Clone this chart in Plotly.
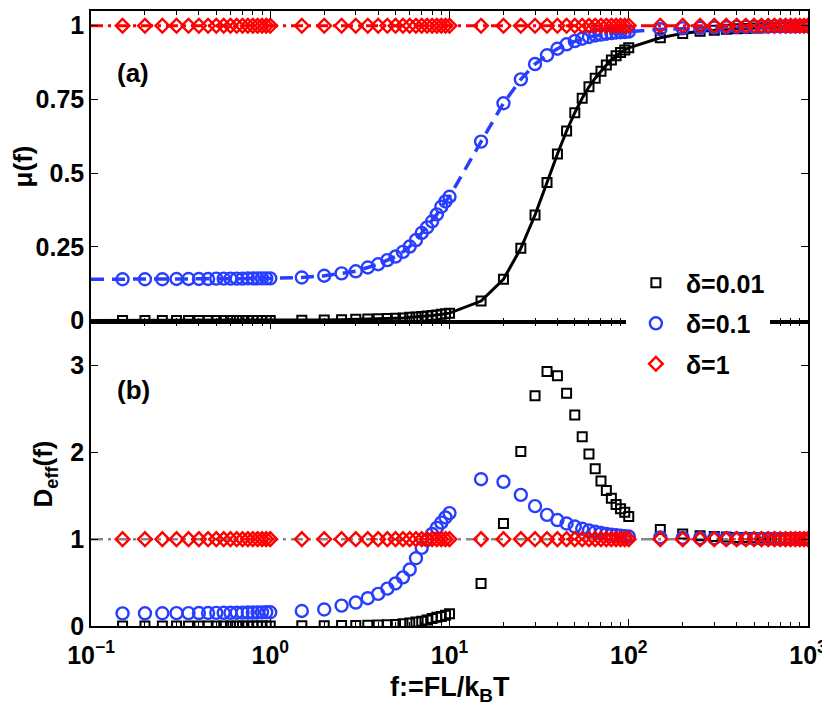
import plotly.graph_objects as go

# force grid f = FL/kBT
f_vals = [0.15, 0.2, 0.25, 0.3, 0.35, 0.4, 0.45, 0.5, 0.55, 0.6, 0.65, 0.7, 0.75, 0.8, 0.85, 0.9, 0.95, 1.0,
          1.5, 2, 2.5, 3, 3.5, 4, 4.5, 5, 5.5, 6, 6.5, 7, 7.5, 8, 8.5, 9, 9.5, 10,
          15, 20, 25, 30, 35, 40, 45, 50, 55, 60, 65, 70, 75, 80, 85, 90, 95, 100,
          150, 200, 250, 300, 350, 400, 450, 500, 550, 600, 650, 700, 750, 800, 850, 900, 950, 1000]

# panel (a): mu(f)
mu_d001 = [0] * 18 + \
    [0.001, 0.002, 0.003, 0.004, 0.005, 0.006, 0.007, 0.008, 0.009, 0.011, 0.012, 0.014, 0.015, 0.017, 0.019, 0.021, 0.023, 0.025] + \
    [0.066, 0.14, 0.245, 0.358, 0.468, 0.565, 0.643, 0.705, 0.754, 0.793, 0.822, 0.846, 0.867, 0.884, 0.898, 0.909, 0.918, 0.925] + \
    [0.959, 0.974, 0.981, 0.985, 0.988, 0.990, 0.991, 0.992, 0.993, 0.994, 0.994, 0.995, 0.995, 0.996, 0.996, 0.996, 0.997, 0.997]
mu_d01 = [0.140, 0.140, 0.140, 0.141, 0.141, 0.141, 0.141, 0.142, 0.142, 0.142, 0.142, 0.142, 0.143, 0.143, 0.143, 0.143, 0.143, 0.143] + \
    [0.146, 0.152, 0.160, 0.167, 0.180, 0.191, 0.205, 0.217, 0.233, 0.251, 0.273, 0.297, 0.316, 0.336, 0.360, 0.386, 0.404, 0.420] + \
    [0.607, 0.737, 0.818, 0.870, 0.900, 0.922, 0.937, 0.948, 0.956, 0.962, 0.967, 0.970, 0.973, 0.975, 0.977, 0.978, 0.979, 0.980] + \
    [0.988, 0.991, 0.993, 0.994, 0.995, 0.996, 0.996, 0.997, 0.997, 0.997, 0.998, 0.998, 0.998, 0.998, 0.998, 0.999, 0.999, 0.999]
mu_d1 = [1.0] * 72

# panel (b): D_eff(f)
D_d001 = [0] * 18 + \
    [0.002, 0.003, 0.005, 0.007, 0.009, 0.012, 0.015, 0.018, 0.025, 0.035, 0.045, 0.055, 0.07, 0.085, 0.10, 0.11, 0.125, 0.14] + \
    [0.49, 1.18, 2.01, 2.65, 2.93, 2.88, 2.68, 2.43, 2.18, 1.98, 1.81, 1.67, 1.56, 1.47, 1.40, 1.35, 1.31, 1.26] + \
    [1.11, 1.06, 1.04, 1.03, 1.025, 1.02, 1.018, 1.016, 1.014, 1.013, 1.012, 1.011, 1.01, 1.01, 1.009, 1.008, 1.008, 1.007]
D_d01 = [0.145, 0.146, 0.147, 0.148, 0.148, 0.149, 0.150, 0.151, 0.152, 0.152, 0.153, 0.154, 0.155, 0.155, 0.156, 0.157, 0.158, 0.158] + \
    [0.173, 0.19, 0.235, 0.27, 0.32, 0.37, 0.43, 0.49, 0.56, 0.65, 0.78, 0.90, 0.99, 1.06, 1.13, 1.19, 1.25, 1.30] + \
    [1.69, 1.66, 1.51, 1.38, 1.28, 1.22, 1.18, 1.145, 1.12, 1.10, 1.085, 1.07, 1.06, 1.05, 1.045, 1.04, 1.035, 1.03] + \
    [1.02, 1.015, 1.012, 1.01, 1.008, 1.007, 1.006, 1.005, 1.005, 1.004, 1.004, 1.003, 1.003, 1.003, 1.002, 1.002, 1.002, 1.002]
D_d1 = [1.0] * 72

# theory curves start at the left edge of the axis
f_line = [0.1] + f_vals
mu_line_d001 = [0] + mu_d001
mu_line_d01 = [0.14] + mu_d01
mu_line_d1 = [1.0] + mu_d1
D_line_ref = [1.0] * 73

labels = ['δ=0.01', 'δ=0.1', 'δ=1']
BLUE = 'rgb(40,62,255)'
RED = 'rgb(255,0,0)'
FONT = 'Liberation Sans, Arial, sans-serif'

sq = dict(symbol='square-open', size=9, color='black', line=dict(width=2))
ci = dict(symbol='circle-open', size=12, color=BLUE, line=dict(width=2.4))
di = dict(symbol='diamond-open', size=10.5, color=RED, line=dict(width=2.4))

fig = go.Figure()

# panel (a)
fig.add_trace(go.Scatter(x=f_vals, y=mu_d001, mode='markers', name=labels[0], legendgroup='a',
                         marker=sq, xaxis='x', yaxis='y'))
fig.add_trace(go.Scatter(x=f_line, y=mu_line_d001, mode='lines', showlegend=False,
                         line=dict(color='black', width=3), xaxis='x', yaxis='y'))
fig.add_trace(go.Scatter(x=f_vals, y=mu_d01, mode='markers', name=labels[1], legendgroup='b',
                         marker=ci, xaxis='x', yaxis='y'))
fig.add_trace(go.Scatter(x=f_line, y=mu_line_d01, mode='lines', showlegend=False,
                         line=dict(color=BLUE, width=3.5, dash='13px,8px'), xaxis='x', yaxis='y'))
fig.add_trace(go.Scatter(x=f_vals, y=mu_d1, mode='markers', name=labels[2], legendgroup='c',
                         marker=di, xaxis='x', yaxis='y'))
fig.add_trace(go.Scatter(x=f_line, y=mu_line_d1, mode='lines', showlegend=False,
                         line=dict(color=RED, width=3, dash='12px,5px,3px,5px'), xaxis='x', yaxis='y'))

# panel (b)
fig.add_trace(go.Scatter(x=f_line, y=D_line_ref, mode='lines', showlegend=False,
                         line=dict(color='rgb(135,135,135)', width=2.5, dash='12px,5px,3px,5px'),
                         xaxis='x2', yaxis='y2'))
fig.add_trace(go.Scatter(x=f_vals, y=D_d001, mode='markers', showlegend=False,
                         marker=sq, xaxis='x2', yaxis='y2'))
fig.add_trace(go.Scatter(x=f_vals, y=D_d01, mode='markers', showlegend=False,
                         marker=ci, xaxis='x2', yaxis='y2'))
fig.add_trace(go.Scatter(x=f_vals, y=D_d1, mode='markers', showlegend=False,
                         marker=di, xaxis='x2', yaxis='y2'))

major = [0.1, 1, 10, 100, 1000]
minor = [0.2, 0.3, 0.4, 0.5, 0.6, 0.7, 0.8, 0.9, 2, 3, 4, 5, 6, 7, 8, 9,
         20, 30, 40, 50, 60, 70, 80, 90, 200, 300, 400, 500, 600, 700, 800, 900]
tickfont = dict(family=FONT, size=25, color='black', weight='bold')
titlefont = dict(family=FONT, size=26, color='black', weight='bold')

axis_common = dict(showline=True, linecolor='black', linewidth=1.5, mirror='ticks',
                   ticks='inside', ticklen=7, tickwidth=1.2, tickcolor='black',
                   showgrid=False, zeroline=False, tickfont=tickfont, automargin=False)
x_common = dict(axis_common, type='log', range=[-1, 3], tickvals=major,
                minor=dict(tickvals=minor, ticks='inside', ticklen=4, tickwidth=1, tickcolor='black', showgrid=False))

# the page puts the figure 8px in from the top-left corner, margins account for it
split = 0.4943
fig.update_layout(
    width=830, height=714,
    margin=dict(l=83, r=30, t=3, b=96),
    plot_bgcolor='white', paper_bgcolor='white',
    font=dict(family=FONT, color='black'),
    xaxis=dict(x_common, domain=[0, 1], anchor='y', showticklabels=False),
    xaxis2=dict(x_common, domain=[0, 1], anchor='y2', matches='x', ticklabelstandoff=6,
                ticktext=['10<sup>−1</sup>', '10<sup>0</sup>', '10<sup>1</sup>', '10<sup>2</sup>', '10<sup>3</sup>']),
    yaxis=dict(axis_common, domain=[split, 1], anchor='x', range=[-0.005, 1.05],
               tickvals=[0, 0.25, 0.5, 0.75, 1], ticktext=['0', '0.25', '0.5', '0.75', '1'],
               title=dict(text='μ(f)', standoff=10, font=titlefont)),
    yaxis2=dict(axis_common, domain=[0, split], anchor='x2', range=[0, 3.5],
                tickvals=[0, 1, 2, 3], ticktext=['0', '1', '2', '3'],
                title=dict(text='D<sub>eff</sub>(f)', standoff=10, font=titlefont)),
    legend=dict(x=0.746, y=0.595, xanchor='left', yanchor='top', bgcolor='white', borderwidth=0,
                font=dict(family=FONT, size=25, color='black', weight='bold'),
                itemwidth=50, tracegroupgap=5),
    annotations=[
        dict(text='(a)', x=0.033, y=0.899, xref='paper', yref='paper', xanchor='left', yanchor='middle',
             showarrow=False, font=titlefont),
        dict(text='(b)', x=0.033, y=0.384, xref='paper', yref='paper', xanchor='left', yanchor='middle',
             showarrow=False, font=titlefont),
        dict(text='f:=FL/k<sub>B</sub>T', x=0.5, y=-0.072, xref='paper', yref='paper',
             xanchor='center', yanchor='top', showarrow=False,
             font=dict(family=FONT, size=27, color='black', weight='bold')),
    ],
)

fig.write_html('out.html')
